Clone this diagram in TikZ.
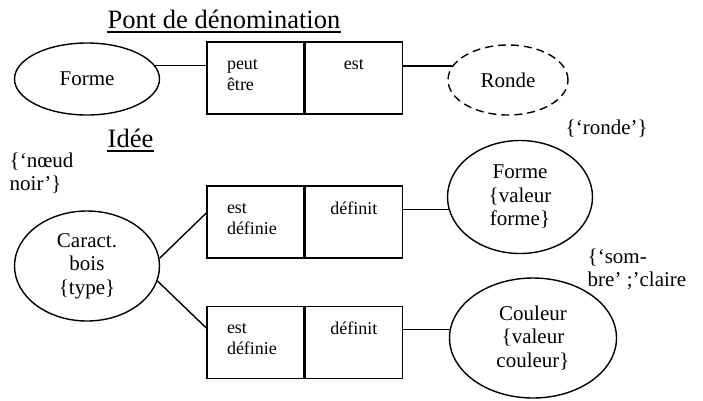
\documentclass[tikz,border=0pt]{standalone}
\usepackage{fontspec}
\setmainfont{Liberation Serif}
\usetikzlibrary{positioning,shapes.geometric}

\begin{document}
\begin{tikzpicture}[
        x=1pt, y=-1pt,
        line width=1.4pt,
        big text/.style={font=\fontsize{21}{23.5}\selectfont, align=center},
        small text/.style={font=\fontsize{18}{21}\selectfont, align=left, inner sep=0pt},
        title text/.style={font=\fontsize{26.5}{30}\selectfont, inner sep=0pt},
        note text/.style={font=\fontsize{21}{23.5}\selectfont, align=left, inner sep=0pt},
        concept/.style={ellipse, draw, inner sep=0pt, big text},
        cell/.style={draw, minimum width=97pt, minimum height=72pt, inner sep=0pt},
    ]
    \useasboundingbox (0,0) rectangle (703,400);

    % Pont de dénomination
    \node[title text, anchor=base] (pont) at (224,28) {Pont de dénomination};
    \draw[line width=1.2pt] ([yshift=-4pt]pont.base west) -- ([yshift=-4pt]pont.base east);

    \node[concept, minimum width=145pt, minimum height=72pt] (forme) at (87,79) {Forme};
    \node[cell] (b1l) at (255.5,78) {};
    \node[cell, right=0pt of b1l] (b1r) {};
    \node[small text, below right=17pt and 20pt of b1l.north west] (peut) {peut\\être};
    \node[small text, below=17pt of b1r.north] (est) {est};
    \node[concept, dashed, dash pattern=on 8pt off 5pt,
        minimum width=120pt, minimum height=70pt] (ronde) at (508,80) {Ronde};

    \draw (forme.11) -- (forme.11 -| b1l.west);
    \draw (ronde.166) -- (ronde.166 -| b1r.east);

    % Idée
    \node[title text, anchor=base west] (idee) at (107,147) {Idée};
    \draw[line width=1.2pt] ([yshift=-4pt]idee.base west) -- ([yshift=-4pt]idee.base east);
    \node[note text, anchor=north west] (noeud) at (9,152) {\{‘nœud\\noir’\}};

    \node[concept, minimum width=145pt, minimum height=110pt] (caract) at (87,266)
        {Caract.\\bois\\\{type\}};

    \node[cell] (b2l) at (255.5,222) {};
    \node[cell, right=0pt of b2l] (b2r) {};
    \node[small text, below right=17pt and 20pt of b2l.north west] (est2) {est\\définie};
    \node[small text, below=15.5pt of b2r.north] (def2) {définit};

    \node[cell] (b3l) at (255.5,342.5) {};
    \node[cell, right=0pt of b3l] (b3r) {};
    \node[small text, below right=17pt and 20pt of b3l.north west] (est3) {est\\définie};
    \node[small text, below=15.5pt of b3r.north] (def3) {définit};

    \node[concept, minimum width=145pt, minimum height=113pt] (forme2) at (520,197)
        {Forme\\\{valeur\\forme\}};
    \node[concept, minimum width=167pt, minimum height=120pt] (couleur) at (533,338)
        {Couleur\\\{valeur\\couleur\}};

    \node[note text, anchor=base west] (rondeval) at (565,134) {\{‘ronde’\}};
    \node[note text, anchor=north west] (sombre) at (587,248) {\{‘som-\\bre’ ;’claire};

    \draw (caract.6) -- ([yshift=9pt]b2l.west);
    \draw (caract.-12) -- ([yshift=14.5pt]b3l.west);
    \draw (forme2.190) -- (forme2.190 -| b2r.east);
    \draw (couleur.174) -- (couleur.174 -| b3r.east);
\end{tikzpicture}
\end{document}
